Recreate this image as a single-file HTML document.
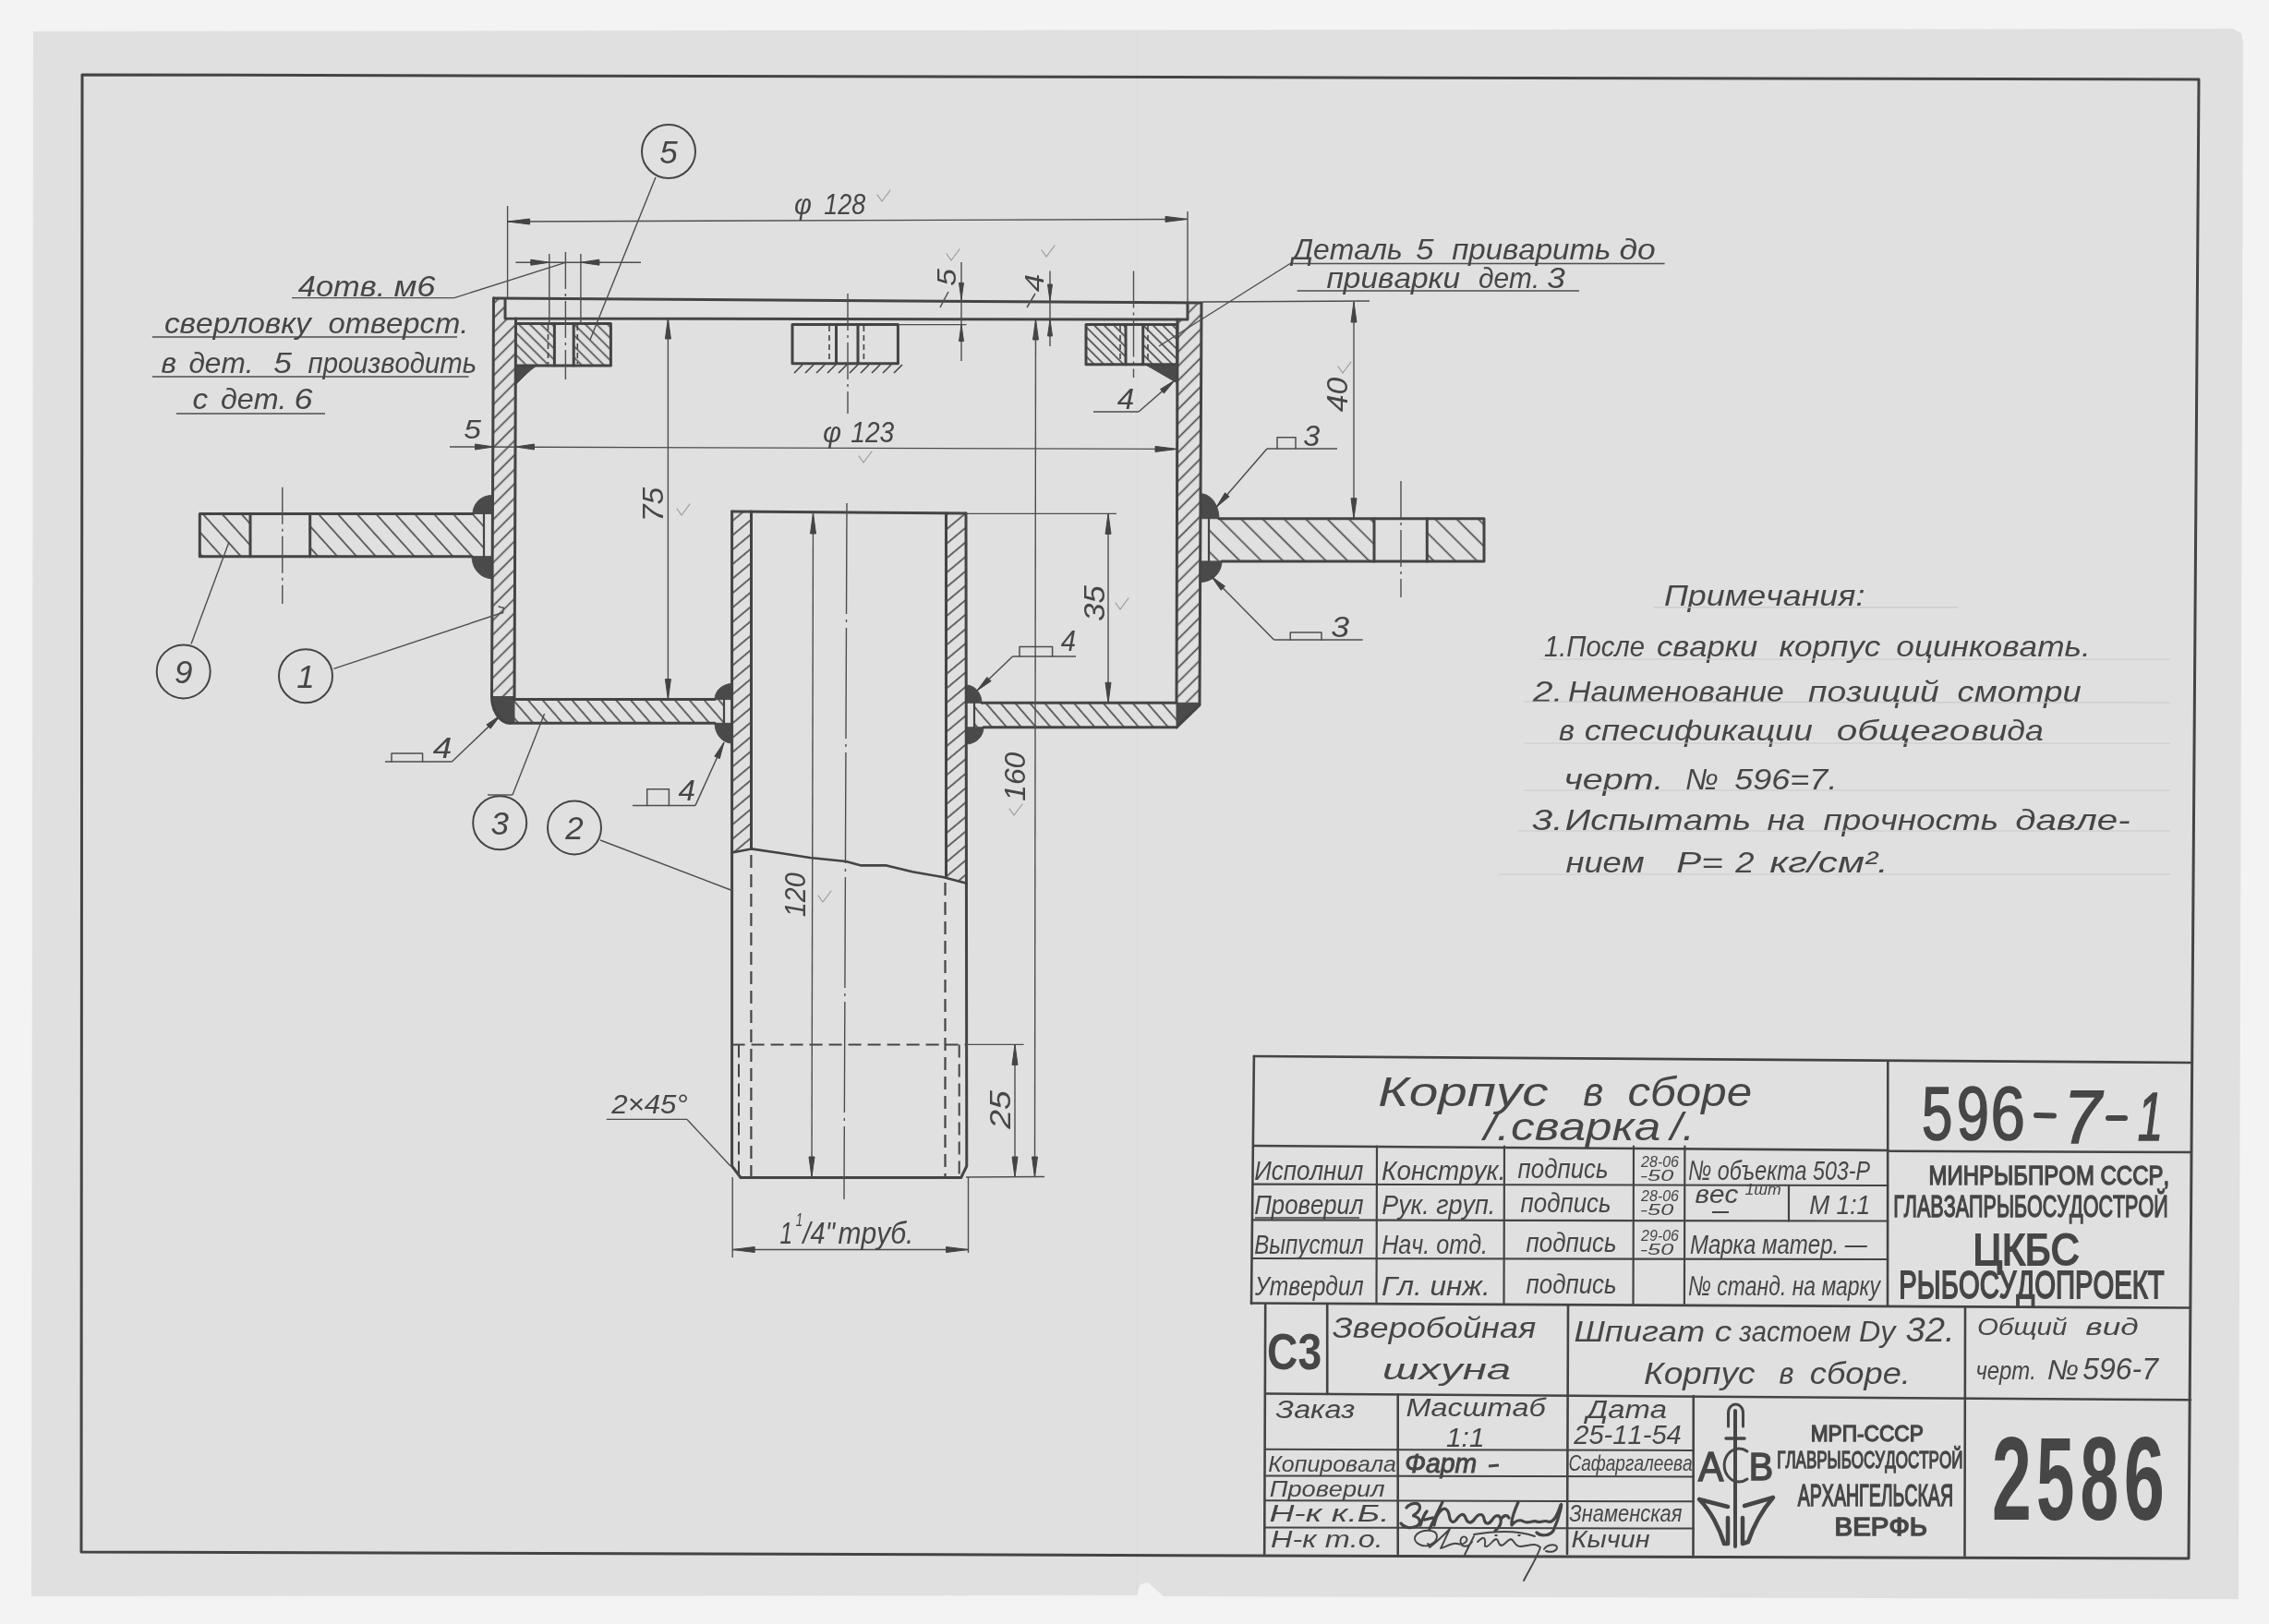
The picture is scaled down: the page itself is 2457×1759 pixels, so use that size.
<!DOCTYPE html>
<html><head><meta charset="utf-8"><title>Корпус в сборе 596-7-1</title>
<style>html,body{margin:0;padding:0;background:#f3f3f3;}svg{display:block;will-change:transform;}text{font-family:"Liberation Sans",sans-serif;}</style>
</head><body>
<svg width="2457" height="1759" viewBox="0 0 2457 1759"><defs><pattern id="h1" patternUnits="userSpaceOnUse" width="11" height="11" patternTransform="rotate(-45)"><line x1="0" y1="5.5" x2="11" y2="5.5" stroke="#464646" stroke-width="1.6"/></pattern><pattern id="h2" patternUnits="userSpaceOnUse" width="11" height="11" patternTransform="rotate(-45)"><line x1="0" y1="5.5" x2="11" y2="5.5" stroke="#464646" stroke-width="1.6"/></pattern><pattern id="h3" patternUnits="userSpaceOnUse" width="8.5" height="8.5" patternTransform="rotate(45)"><line x1="0" y1="4.2" x2="8.5" y2="4.2" stroke="#464646" stroke-width="1.6"/></pattern><pattern id="h4" patternUnits="userSpaceOnUse" width="8.5" height="8.5" patternTransform="rotate(45)"><line x1="0" y1="4.2" x2="8.5" y2="4.2" stroke="#464646" stroke-width="1.6"/></pattern><pattern id="h5" patternUnits="userSpaceOnUse" width="7.5" height="7.5" patternTransform="rotate(45)"><line x1="0" y1="3.8" x2="7.5" y2="3.8" stroke="#464646" stroke-width="1.6"/></pattern><pattern id="h6" patternUnits="userSpaceOnUse" width="7.5" height="7.5" patternTransform="rotate(45)"><line x1="0" y1="3.8" x2="7.5" y2="3.8" stroke="#464646" stroke-width="1.6"/></pattern><pattern id="h7" patternUnits="userSpaceOnUse" width="15.5" height="15.5" patternTransform="rotate(48)"><line x1="0" y1="7.8" x2="15.5" y2="7.8" stroke="#464646" stroke-width="1.6"/></pattern><pattern id="h8" patternUnits="userSpaceOnUse" width="15.5" height="15.5" patternTransform="rotate(48)"><line x1="0" y1="7.8" x2="15.5" y2="7.8" stroke="#464646" stroke-width="1.6"/></pattern><pattern id="h9" patternUnits="userSpaceOnUse" width="16.5" height="16.5" patternTransform="rotate(45)"><line x1="0" y1="8.2" x2="16.5" y2="8.2" stroke="#464646" stroke-width="1.6"/></pattern><pattern id="h10" patternUnits="userSpaceOnUse" width="16.5" height="16.5" patternTransform="rotate(45)"><line x1="0" y1="8.2" x2="16.5" y2="8.2" stroke="#464646" stroke-width="1.6"/></pattern><pattern id="h11" patternUnits="userSpaceOnUse" width="12" height="12" patternTransform="rotate(49)"><line x1="0" y1="6" x2="12" y2="6" stroke="#464646" stroke-width="1.6"/></pattern><pattern id="h12" patternUnits="userSpaceOnUse" width="12" height="12" patternTransform="rotate(49)"><line x1="0" y1="6" x2="12" y2="6" stroke="#464646" stroke-width="1.6"/></pattern><pattern id="h13" patternUnits="userSpaceOnUse" width="12" height="12" patternTransform="rotate(-40)"><line x1="0" y1="6" x2="12" y2="6" stroke="#464646" stroke-width="1.6"/></pattern><pattern id="h14" patternUnits="userSpaceOnUse" width="12" height="12" patternTransform="rotate(-40)"><line x1="0" y1="6" x2="12" y2="6" stroke="#464646" stroke-width="1.6"/></pattern></defs><rect x="0" y="0" width="2457" height="1759" fill="#f3f3f3"/>
<path d="M36,34 L2418,31 L2427,36 L2429,45 L2424,1732 L1260,1729 L1252,1722 L1243,1714 L1235,1716 L1230,1728 L34,1729 Z" fill="#e0e0e0" stroke="none"/>
<line x1="1231" y1="34" x2="1231" y2="1728" stroke="#dcdcdc" stroke-width="1.5" />
<path d="M89,81 L2381,86 L2370,1688 L88,1681 Z" fill="none" stroke="#444444" stroke-width="3" stroke-linejoin="round" stroke-linecap="round" />
<path d="M534.5,324 L547,324 L547,345 L558.5,345 L557,757 L532.5,757 Z" fill="url(#h1)" stroke="none"/>
<path d="M1286,328 L1301,328 L1299,761 L1274,761 L1275,346 L1286,346 Z" fill="url(#h2)" stroke="none"/>
<path d="M558.5,350.5 L600.4,350.5 L600.4,396 L558.5,396 Z" fill="url(#h3)" stroke="none"/>
<path d="M621.2,350.5 L661.4,350.5 L661.4,396 L621.2,396 Z" fill="url(#h4)" stroke="none"/>
<path d="M1176,351.5 L1219,351.5 L1219,394.7 L1176,394.7 Z" fill="url(#h5)" stroke="none"/>
<path d="M1237.7,351.5 L1274.7,351.5 L1274.7,394.7 L1237.7,394.7 Z" fill="url(#h6)" stroke="none"/>
<path d="M216.3,556.5 L271,556.5 L271,602.7 L216.3,602.7 Z" fill="url(#h7)" stroke="none"/>
<path d="M335.7,556.5 L524,556.5 L524,602.7 L335.7,602.7 Z" fill="url(#h8)" stroke="none"/>
<path d="M1309,561.7 L1488,561.7 L1488,607.9 L1309,607.9 Z" fill="url(#h9)" stroke="none"/>
<path d="M1545.3,561.7 L1607,561.7 L1607,607.9 L1545.3,607.9 Z" fill="url(#h10)" stroke="none"/>
<path d="M557,757.6 L784,757.6 L784,783.3 L557,783.3 Z" fill="url(#h11)" stroke="none"/>
<path d="M1055,761.3 L1274,761.3 L1274,787.8 L1055,787.8 Z" fill="url(#h12)" stroke="none"/>
<path d="M792.6,554 L813.5,554 L813.5,919.4 L792.6,923.6 Z" fill="url(#h13)" stroke="none"/>
<path d="M1024.5,556 L1046,556 L1046,956.8 L1024.5,950 Z" fill="url(#h14)" stroke="none"/>
<path d="M532.5,556.5 L512,556.5 A20.5,20 0 0 1 532.5,536.5 Z" fill="#4a4a4a" stroke="#4a4a4a" stroke-width="1"/>
<path d="M532.5,602.7 L511,602.7 A21.5,24 0 0 0 532.5,626.7 Z" fill="#4a4a4a" stroke="#4a4a4a" stroke-width="1"/>
<path d="M1300,561.7 L1320,561.7 A20,27 0 0 0 1300,534.7 Z" fill="#4a4a4a" stroke="#4a4a4a" stroke-width="1"/>
<path d="M1300,607.9 L1323,607.9 A23,22.6 0 0 1 1300,630.5 Z" fill="#4a4a4a" stroke="#4a4a4a" stroke-width="1"/>
<path d="M792.6,757.6 L774,757.6 A18.6,17 0 0 1 792.6,740.6 Z" fill="#4a4a4a" stroke="#4a4a4a" stroke-width="1"/>
<path d="M792.6,783.3 L774,783.3 A18.6,21.7 0 0 0 792.6,805 Z" fill="#4a4a4a" stroke="#4a4a4a" stroke-width="1"/>
<path d="M1046,761.3 L1063,761.3 A17,19.3 0 0 0 1046,742 Z" fill="#4a4a4a" stroke="#4a4a4a" stroke-width="1"/>
<path d="M1046,787.8 L1065,787.8 A19,18.2 0 0 1 1046,806 Z" fill="#4a4a4a" stroke="#4a4a4a" stroke-width="1"/>
<path d="M558.5,396 L581,396 Q574,401 569,406 L559,416 Z" fill="#4a4a4a" stroke="#4a4a4a" stroke-width="1"/>
<path d="M1275,394.7 L1240,394.7 L1275,415 Z" fill="#4a4a4a" stroke="#4a4a4a" stroke-width="1"/>
<path d="M532.5,754.5 L557,754.5 L557,783.3 L552,783.3 A20,28.8 0 0 1 532.5,754.5 Z" fill="#4a4a4a" stroke="#4a4a4a" stroke-width="1"/>
<path d="M1299,761.3 L1274,761.3 L1274,787.8 L1299,763.7 Z" fill="#4a4a4a" stroke="#4a4a4a" stroke-width="1"/>
<path d="M534.5,323 L1301,328" fill="none" stroke="#444444" stroke-width="3.0" stroke-linejoin="round" stroke-linecap="round" />
<path d="M547,323.5 L547,345 L1286,346 L1286,328" fill="none" stroke="#444444" stroke-width="3.0" stroke-linejoin="round" stroke-linecap="round" />
<path d="M534.5,323 L532.5,754.5 A20,28.8 0 0 0 552,783.3" fill="none" stroke="#444444" stroke-width="3.0" stroke-linejoin="round" stroke-linecap="round" />
<path d="M558.5,345 L557,757.6" fill="none" stroke="#444444" stroke-width="3.0" stroke-linejoin="round" stroke-linecap="round" />
<path d="M1301,328 L1299,763.7 L1274,787.8" fill="none" stroke="#444444" stroke-width="3.0" stroke-linejoin="round" stroke-linecap="round" />
<path d="M1275,346 L1274,761.3" fill="none" stroke="#444444" stroke-width="3.0" stroke-linejoin="round" stroke-linecap="round" />
<path d="M558.5,350.5 L661.4,350.5 L661.4,396 L558.5,396" fill="none" stroke="#444444" stroke-width="3.0" stroke-linejoin="round" stroke-linecap="round" />
<path d="M600.4,350.5 L600.4,396" fill="none" stroke="#444444" stroke-width="3.0" stroke-linejoin="round" stroke-linecap="round" />
<path d="M621.2,350.5 L621.2,396" fill="none" stroke="#444444" stroke-width="3.0" stroke-linejoin="round" stroke-linecap="round" />
<path d="M858,351.5 L972.4,351.5 L972.4,393.8 L858,393.8 Z" fill="none" stroke="#444444" stroke-width="3.0" stroke-linejoin="round" stroke-linecap="round" />
<path d="M905.5,351.5 L905.5,393.8" fill="none" stroke="#444444" stroke-width="3.0" stroke-linejoin="round" stroke-linecap="round" />
<path d="M929,351.5 L929,393.8" fill="none" stroke="#444444" stroke-width="3.0" stroke-linejoin="round" stroke-linecap="round" />
<path d="M1176,351.5 L1274.7,351.5 L1274.7,394.7 L1176,394.7 Z" fill="none" stroke="#444444" stroke-width="3.0" stroke-linejoin="round" stroke-linecap="round" />
<path d="M1219,351.5 L1219,394.7" fill="none" stroke="#444444" stroke-width="3.0" stroke-linejoin="round" stroke-linecap="round" />
<path d="M1237.7,351.5 L1237.7,394.7" fill="none" stroke="#444444" stroke-width="3.0" stroke-linejoin="round" stroke-linecap="round" />
<path d="M512,556.5 L216.3,556.5 L216.3,602.7 L511,602.7" fill="none" stroke="#444444" stroke-width="3.0" stroke-linejoin="round" stroke-linecap="round" />
<path d="M271,556.5 L271,602.7" fill="none" stroke="#444444" stroke-width="3.0" stroke-linejoin="round" stroke-linecap="round" />
<path d="M335.7,556.5 L335.7,602.7" fill="none" stroke="#444444" stroke-width="3.0" stroke-linejoin="round" stroke-linecap="round" />
<path d="M524,556.5 L524,602.7" fill="none" stroke="#444444" stroke-width="2.2" stroke-linejoin="round" stroke-linecap="round" />
<path d="M1320,561.7 L1607,561.7 L1607,607.9 L1323,607.9" fill="none" stroke="#444444" stroke-width="3.0" stroke-linejoin="round" stroke-linecap="round" />
<path d="M1488,561.7 L1488,607.9" fill="none" stroke="#444444" stroke-width="3.0" stroke-linejoin="round" stroke-linecap="round" />
<path d="M1545.3,561.7 L1545.3,607.9" fill="none" stroke="#444444" stroke-width="3.0" stroke-linejoin="round" stroke-linecap="round" />
<path d="M1309,561.7 L1309,607.9" fill="none" stroke="#444444" stroke-width="2.2" stroke-linejoin="round" stroke-linecap="round" />
<path d="M557,757.6 L774,757.6" fill="none" stroke="#444444" stroke-width="3.0" stroke-linejoin="round" stroke-linecap="round" />
<path d="M552,783.3 L774,783.3" fill="none" stroke="#444444" stroke-width="3.0" stroke-linejoin="round" stroke-linecap="round" />
<path d="M784,757.6 L784,783.3" fill="none" stroke="#444444" stroke-width="2.2" stroke-linejoin="round" stroke-linecap="round" />
<path d="M1063,761.3 L1274,761.3" fill="none" stroke="#444444" stroke-width="3.0" stroke-linejoin="round" stroke-linecap="round" />
<path d="M1065,787.8 L1274,787.8" fill="none" stroke="#444444" stroke-width="3.0" stroke-linejoin="round" stroke-linecap="round" />
<path d="M1055,761.3 L1055,787.8" fill="none" stroke="#444444" stroke-width="2.2" stroke-linejoin="round" stroke-linecap="round" />
<path d="M792.6,554 L1046,556" fill="none" stroke="#444444" stroke-width="3.0" stroke-linejoin="round" stroke-linecap="round" />
<path d="M792.6,554 L792.6,1263 L802,1275.5 L1040.7,1275.5 L1046.8,1263 L1046,556" fill="none" stroke="#444444" stroke-width="3.0" stroke-linejoin="round" stroke-linecap="round" />
<path d="M813.5,554 L813.5,919.4" fill="none" stroke="#444444" stroke-width="3.0" stroke-linejoin="round" stroke-linecap="round" />
<path d="M1024.5,556 L1024.5,950" fill="none" stroke="#444444" stroke-width="3.0" stroke-linejoin="round" stroke-linecap="round" />
<path d="M792.6,923.6 L813.4,919.4 L845,924 L877,929 L916,933 L932.6,937.4 L960,937.4 L988,944.3 L1021,950 L1046.8,956.8" fill="none" stroke="#444444" stroke-width="2.6" stroke-linejoin="round" stroke-linecap="round" />
<line x1="813.4" y1="926" x2="813.4" y2="1275" stroke="#444444" stroke-width="2.2" stroke-dasharray="14 7"/>
<line x1="1023.5" y1="956" x2="1023.5" y2="1275" stroke="#444444" stroke-width="2.2" stroke-dasharray="14 7"/>
<line x1="792.6" y1="1131.4" x2="1046" y2="1131.4" stroke="#444444" stroke-width="2.0" stroke-dasharray="14 7"/>
<line x1="800" y1="1131.4" x2="800" y2="1272" stroke="#444444" stroke-width="2.0" stroke-dasharray="14 7"/>
<line x1="1038.7" y1="1131.4" x2="1038.7" y2="1272" stroke="#444444" stroke-width="2.0" stroke-dasharray="14 7"/>
<line x1="593.5" y1="352" x2="593.5" y2="394" stroke="#444444" stroke-width="1.6" stroke-dasharray="6 4"/>
<line x1="625.3" y1="352" x2="625.3" y2="394" stroke="#444444" stroke-width="1.6" stroke-dasharray="6 4"/>
<line x1="898" y1="353" x2="898" y2="392" stroke="#444444" stroke-width="1.6" stroke-dasharray="6 4"/>
<line x1="935.4" y1="353" x2="935.4" y2="392" stroke="#444444" stroke-width="1.6" stroke-dasharray="6 4"/>
<line x1="1213" y1="353" x2="1213" y2="393" stroke="#444444" stroke-width="1.6" stroke-dasharray="6 4"/>
<line x1="1243" y1="353" x2="1243" y2="393" stroke="#444444" stroke-width="1.6" stroke-dasharray="6 4"/>
<line x1="860" y1="404" x2="869" y2="395" stroke="#444444" stroke-width="1.6" />
<line x1="872" y1="404" x2="881" y2="395" stroke="#444444" stroke-width="1.6" />
<line x1="884" y1="404" x2="893" y2="395" stroke="#444444" stroke-width="1.6" />
<line x1="896" y1="404" x2="905" y2="395" stroke="#444444" stroke-width="1.6" />
<line x1="908" y1="404" x2="917" y2="395" stroke="#444444" stroke-width="1.6" />
<line x1="920" y1="404" x2="929" y2="395" stroke="#444444" stroke-width="1.6" />
<line x1="932" y1="404" x2="941" y2="395" stroke="#444444" stroke-width="1.6" />
<line x1="944" y1="404" x2="953" y2="395" stroke="#444444" stroke-width="1.6" />
<line x1="956" y1="404" x2="965" y2="395" stroke="#444444" stroke-width="1.6" />
<line x1="968" y1="404" x2="977" y2="395" stroke="#444444" stroke-width="1.6" />
<line x1="612.4" y1="273" x2="612.4" y2="411" stroke="#4e4e4e" stroke-width="1.4" stroke-dasharray="40 5 3 5"/>
<line x1="918" y1="318" x2="918" y2="448" stroke="#4e4e4e" stroke-width="1.4" stroke-dasharray="40 5 3 5"/>
<line x1="1227.5" y1="293.5" x2="1227.5" y2="409" stroke="#4e4e4e" stroke-width="1.4" stroke-dasharray="40 5 3 5"/>
<line x1="305.8" y1="527.8" x2="305.8" y2="654" stroke="#4e4e4e" stroke-width="1.4" stroke-dasharray="40 5 3 5"/>
<line x1="1517" y1="521" x2="1517" y2="647" stroke="#4e4e4e" stroke-width="1.4" stroke-dasharray="40 5 3 5"/>
<line x1="917" y1="545" x2="914" y2="1299" stroke="#4e4e4e" stroke-width="1.4" stroke-dasharray="120 6 3 6"/>
<line x1="549.6" y1="223" x2="549.6" y2="322" stroke="#4e4e4e" stroke-width="1.4" />
<line x1="1286" y1="229" x2="1286" y2="327" stroke="#4e4e4e" stroke-width="1.4" />
<line x1="549.6" y1="240" x2="1286" y2="237.4" stroke="#4e4e4e" stroke-width="1.4" />
<path d="M549.6,240 L573.6,237 L573.6,243 Z" fill="#444444" stroke="#444444" stroke-width="1" stroke-linejoin="round"/>
<path d="M1286,237.4 L1262,240.4 L1262,234.4 Z" fill="#444444" stroke="#444444" stroke-width="1" stroke-linejoin="round"/>
<line x1="487" y1="484" x2="1275" y2="486.4" stroke="#4e4e4e" stroke-width="1.4" />
<path d="M534.5,484 L514.5,487 L514.5,481 Z" fill="#444444" stroke="#444444" stroke-width="1" stroke-linejoin="round"/>
<path d="M558.5,484 L578.5,481 L578.5,487 Z" fill="#444444" stroke="#444444" stroke-width="1" stroke-linejoin="round"/>
<path d="M1275,486.4 L1251,489.4 L1251,483.4 Z" fill="#444444" stroke="#444444" stroke-width="1" stroke-linejoin="round"/>
<line x1="594.8" y1="275" x2="594.8" y2="350" stroke="#4e4e4e" stroke-width="1.4" />
<line x1="628.9" y1="275" x2="628.9" y2="350" stroke="#4e4e4e" stroke-width="1.4" />
<line x1="558.4" y1="284.2" x2="694" y2="284.2" stroke="#4e4e4e" stroke-width="1.4" />
<path d="M594.8,284.2 L574.8,287.2 L574.8,281.2 Z" fill="#444444" stroke="#444444" stroke-width="1" stroke-linejoin="round"/>
<path d="M628.9,284.2 L648.9,281.2 L648.9,287.2 Z" fill="#444444" stroke="#444444" stroke-width="1" stroke-linejoin="round"/>
<line x1="972.4" y1="351.6" x2="1046.5" y2="351.6" stroke="#4e4e4e" stroke-width="1.4" />
<line x1="1041" y1="284" x2="1041" y2="391" stroke="#4e4e4e" stroke-width="1.4" />
<path d="M1041,324.4 L1038.5,306.4 L1043.5,306.4 Z" fill="#444444" stroke="#444444" stroke-width="1" stroke-linejoin="round"/>
<path d="M1041,351.6 L1043.5,369.6 L1038.5,369.6 Z" fill="#444444" stroke="#444444" stroke-width="1" stroke-linejoin="round"/>
<line x1="1137" y1="293.5" x2="1137" y2="375" stroke="#4e4e4e" stroke-width="1.4" />
<path d="M1137,326 L1134.5,308 L1139.5,308 Z" fill="#444444" stroke="#444444" stroke-width="1" stroke-linejoin="round"/>
<path d="M1137,346 L1139.5,364 L1134.5,364 Z" fill="#444444" stroke="#444444" stroke-width="1" stroke-linejoin="round"/>
<line x1="723.4" y1="345" x2="723.4" y2="757.6" stroke="#4e4e4e" stroke-width="1.4" />
<path d="M723.4,345 L726.4,367 L720.4,367 Z" fill="#444444" stroke="#444444" stroke-width="1" stroke-linejoin="round"/>
<path d="M723.4,757.6 L720.4,735.6 L726.4,735.6 Z" fill="#444444" stroke="#444444" stroke-width="1" stroke-linejoin="round"/>
<line x1="1121.5" y1="346" x2="1120.5" y2="1275" stroke="#4e4e4e" stroke-width="1.4" />
<path d="M1121.5,346 L1124.5,368 L1118.5,368 Z" fill="#444444" stroke="#444444" stroke-width="1" stroke-linejoin="round"/>
<path d="M1120.5,1275 L1117.5,1253 L1123.5,1253 Z" fill="#444444" stroke="#444444" stroke-width="1" stroke-linejoin="round"/>
<line x1="1302" y1="327" x2="1483" y2="326" stroke="#4e4e4e" stroke-width="1.4" />
<line x1="1466" y1="327" x2="1466" y2="561.7" stroke="#4e4e4e" stroke-width="1.4" />
<path d="M1466,327 L1469,349 L1463,349 Z" fill="#444444" stroke="#444444" stroke-width="1" stroke-linejoin="round"/>
<path d="M1466,561.7 L1463,539.7 L1469,539.7 Z" fill="#444444" stroke="#444444" stroke-width="1" stroke-linejoin="round"/>
<line x1="1046" y1="556.4" x2="1209" y2="556.4" stroke="#4e4e4e" stroke-width="1.4" />
<line x1="1200" y1="556.4" x2="1200" y2="761.3" stroke="#4e4e4e" stroke-width="1.4" />
<path d="M1200,556.4 L1203,578.4 L1197,578.4 Z" fill="#444444" stroke="#444444" stroke-width="1" stroke-linejoin="round"/>
<path d="M1200,761.3 L1197,739.3 L1203,739.3 Z" fill="#444444" stroke="#444444" stroke-width="1" stroke-linejoin="round"/>
<line x1="880.5" y1="556" x2="879" y2="1275" stroke="#4e4e4e" stroke-width="1.4" />
<path d="M880.5,556 L883.5,578 L877.5,578 Z" fill="#444444" stroke="#444444" stroke-width="1" stroke-linejoin="round"/>
<path d="M879,1275 L876,1253 L882,1253 Z" fill="#444444" stroke="#444444" stroke-width="1" stroke-linejoin="round"/>
<line x1="1046" y1="1131.4" x2="1108.6" y2="1131.4" stroke="#4e4e4e" stroke-width="1.4" />
<line x1="1099" y1="1131.4" x2="1099" y2="1275" stroke="#4e4e4e" stroke-width="1.4" />
<path d="M1099,1131.4 L1102,1153.4 L1096,1153.4 Z" fill="#444444" stroke="#444444" stroke-width="1" stroke-linejoin="round"/>
<path d="M1099,1275 L1096,1253 L1102,1253 Z" fill="#444444" stroke="#444444" stroke-width="1" stroke-linejoin="round"/>
<line x1="1046" y1="1275" x2="1131" y2="1274.5" stroke="#4e4e4e" stroke-width="1.4" />
<line x1="793.2" y1="1275" x2="793.2" y2="1362" stroke="#4e4e4e" stroke-width="1.4" />
<line x1="1048.5" y1="1275" x2="1048.5" y2="1357" stroke="#4e4e4e" stroke-width="1.4" />
<line x1="793.2" y1="1353.5" x2="1048.5" y2="1353.5" stroke="#4e4e4e" stroke-width="1.4" />
<path d="M793.2,1353.5 L817.2,1350.5 L817.2,1356.5 Z" fill="#444444" stroke="#444444" stroke-width="1" stroke-linejoin="round"/>
<path d="M1048.5,1353.5 L1024.5,1356.5 L1024.5,1350.5 Z" fill="#444444" stroke="#444444" stroke-width="1" stroke-linejoin="round"/>
<circle cx="724" cy="164" r="29" fill="none" stroke="#444444" stroke-width="2.0"/>
<circle cx="198.7" cy="727.4" r="29" fill="none" stroke="#444444" stroke-width="2.0"/>
<circle cx="331" cy="732.3" r="29" fill="none" stroke="#444444" stroke-width="2.0"/>
<circle cx="541.2" cy="891.2" r="29" fill="none" stroke="#444444" stroke-width="2.0"/>
<circle cx="622" cy="896.4" r="29" fill="none" stroke="#444444" stroke-width="2.0"/>
<line x1="710" y1="192" x2="639" y2="368" stroke="#4e4e4e" stroke-width="1.4" />
<line x1="207" y1="697.5" x2="248" y2="587" stroke="#4e4e4e" stroke-width="1.4" />
<line x1="361.3" y1="724.3" x2="544.3" y2="663.5" stroke="#4e4e4e" stroke-width="1.4" />
<path d="M540,657 L545.5,658.5 L544.5,664" fill="none" stroke="#4e4e4e" stroke-width="1.3" stroke-linejoin="round" stroke-linecap="round" />
<line x1="555" y1="861" x2="589.6" y2="773" stroke="#4e4e4e" stroke-width="1.4" />
<line x1="528" y1="861" x2="555" y2="861" stroke="#4e4e4e" stroke-width="1.4" />
<line x1="650" y1="910" x2="794" y2="965" stroke="#4e4e4e" stroke-width="1.4" />
<line x1="316" y1="322.6" x2="492" y2="322.6" stroke="#4e4e4e" stroke-width="1.4" />
<line x1="492" y1="322.6" x2="613" y2="284.2" stroke="#4e4e4e" stroke-width="1.4" />
<line x1="165" y1="365" x2="495" y2="365" stroke="#4e4e4e" stroke-width="1.4" />
<line x1="165" y1="408" x2="507.5" y2="408" stroke="#4e4e4e" stroke-width="1.4" />
<line x1="191" y1="448" x2="352" y2="448" stroke="#4e4e4e" stroke-width="1.4" />
<line x1="1397" y1="285.5" x2="1802.6" y2="285.5" stroke="#4e4e4e" stroke-width="1.4" />
<line x1="1397" y1="285.5" x2="1255" y2="375" stroke="#4e4e4e" stroke-width="1.4" />
<line x1="1404.6" y1="315" x2="1710" y2="315" stroke="#4e4e4e" stroke-width="1.4" />
<line x1="656.8" y1="1212.4" x2="744" y2="1212.4" stroke="#4e4e4e" stroke-width="1.4" />
<line x1="744" y1="1212.4" x2="791" y2="1263" stroke="#4e4e4e" stroke-width="1.4" />
<line x1="1184" y1="446" x2="1233" y2="446" stroke="#4e4e4e" stroke-width="1.5" />
<text x="1209.8" y="443" font-family="Liberation Sans" font-size="32" font-style="italic" font-weight="normal" fill="#464646" textLength="18.5" lengthAdjust="spacingAndGlyphs" style="font-kerning:none" >4</text>
<line x1="1233" y1="446" x2="1272" y2="412" stroke="#4e4e4e" stroke-width="1.5" />
<path d="M1272,412 L1260.4,426.1 L1256.5,421.6 Z" fill="#444444" stroke="#444444" stroke-width="1" stroke-linejoin="round"/>
<line x1="1372" y1="486" x2="1448" y2="486" stroke="#4e4e4e" stroke-width="1.5" />
<path d="M1383,486 L1383,473.7 L1403,473.7 L1403,486" fill="none" stroke="#4e4e4e" stroke-width="1.5" stroke-linejoin="round" stroke-linecap="round" />
<text x="1411.2" y="483" font-family="Liberation Sans" font-size="32" font-style="italic" font-weight="normal" fill="#464646" textLength="18" lengthAdjust="spacingAndGlyphs" style="font-kerning:none" >3</text>
<line x1="1372" y1="486" x2="1317" y2="549.4" stroke="#4e4e4e" stroke-width="1.5" />
<path d="M1317,549.4 L1326.5,533.8 L1331.1,537.8 Z" fill="#444444" stroke="#444444" stroke-width="1" stroke-linejoin="round"/>
<line x1="1379.6" y1="693" x2="1475.7" y2="693" stroke="#4e4e4e" stroke-width="1.5" />
<path d="M1397.2,693 L1397.2,685 L1431,685 L1431,693" fill="none" stroke="#4e4e4e" stroke-width="1.5" stroke-linejoin="round" stroke-linecap="round" />
<text x="1441.2" y="690.4" font-family="Liberation Sans" font-size="32" font-style="italic" font-weight="normal" fill="#464646" textLength="19.9" lengthAdjust="spacingAndGlyphs" style="font-kerning:none" >3</text>
<line x1="1379.6" y1="693" x2="1311.7" y2="624.3" stroke="#4e4e4e" stroke-width="1.5" />
<path d="M1311.7,624.3 L1326.5,635 L1322.2,639.2 Z" fill="#444444" stroke="#444444" stroke-width="1" stroke-linejoin="round"/>
<line x1="417" y1="825" x2="489.4" y2="825" stroke="#4e4e4e" stroke-width="1.5" />
<path d="M424,825 L424,816 L457.6,816 L457.6,825" fill="none" stroke="#4e4e4e" stroke-width="1.5" stroke-linejoin="round" stroke-linecap="round" />
<text x="468.8" y="821" font-family="Liberation Sans" font-size="32" font-style="italic" font-weight="normal" fill="#464646" textLength="20.6" lengthAdjust="spacingAndGlyphs" style="font-kerning:none" >4</text>
<line x1="489.4" y1="825" x2="542" y2="774.6" stroke="#4e4e4e" stroke-width="1.5" />
<path d="M542,774.6 L531.1,789.2 L526.9,784.9 Z" fill="#444444" stroke="#444444" stroke-width="1" stroke-linejoin="round"/>
<line x1="685" y1="872.4" x2="753" y2="872.4" stroke="#4e4e4e" stroke-width="1.5" />
<path d="M700.7,872.4 L700.7,854.8 L724.4,854.8 L724.4,872.4" fill="none" stroke="#4e4e4e" stroke-width="1.5" stroke-linejoin="round" stroke-linecap="round" />
<text x="734.4" y="867" font-family="Liberation Sans" font-size="32" font-style="italic" font-weight="normal" fill="#464646" textLength="18.5" lengthAdjust="spacingAndGlyphs" style="font-kerning:none" >4</text>
<line x1="753" y1="872.4" x2="784" y2="804" stroke="#4e4e4e" stroke-width="1.5" />
<path d="M784,804 L779.3,821.6 L773.8,819.2 Z" fill="#444444" stroke="#444444" stroke-width="1" stroke-linejoin="round"/>
<line x1="1096.5" y1="711" x2="1165" y2="711" stroke="#4e4e4e" stroke-width="1.5" />
<path d="M1104,711 L1104,700.5 L1139.6,700.5 L1139.6,711" fill="none" stroke="#4e4e4e" stroke-width="1.5" stroke-linejoin="round" stroke-linecap="round" />
<text x="1148.8" y="705" font-family="Liberation Sans" font-size="32" font-style="italic" font-weight="normal" fill="#464646" textLength="16.3" lengthAdjust="spacingAndGlyphs" style="font-kerning:none" >4</text>
<line x1="1096.5" y1="711" x2="1058" y2="748" stroke="#4e4e4e" stroke-width="1.5" />
<path d="M1058,748 L1068.9,733.4 L1073.1,737.7 Z" fill="#444444" stroke="#444444" stroke-width="1" stroke-linejoin="round"/>
<text x="322.8" y="321" font-family="Liberation Sans" font-size="32" font-style="italic" font-weight="normal" fill="#464646" textLength="94.4" lengthAdjust="spacingAndGlyphs" style="font-kerning:none" >4отв.</text>
<text x="426.4" y="321" font-family="Liberation Sans" font-size="32" font-style="italic" font-weight="normal" fill="#464646" textLength="45.1" lengthAdjust="spacingAndGlyphs" style="font-kerning:none" >м6</text>
<text x="177.9" y="361.4" font-family="Liberation Sans" font-size="32" font-style="italic" font-weight="normal" fill="#464646" textLength="158.9" lengthAdjust="spacingAndGlyphs" style="font-kerning:none" >сверловку</text>
<text x="355.4" y="361.4" font-family="Liberation Sans" font-size="32" font-style="italic" font-weight="normal" fill="#464646" textLength="152" lengthAdjust="spacingAndGlyphs" style="font-kerning:none" >отверст.</text>
<text x="174.4" y="404.4" font-family="Liberation Sans" font-size="32" font-style="italic" font-weight="normal" fill="#464646" textLength="16.5" lengthAdjust="spacingAndGlyphs" style="font-kerning:none" >в</text>
<text x="204.4" y="404.4" font-family="Liberation Sans" font-size="32" font-style="italic" font-weight="normal" fill="#464646" textLength="70.1" lengthAdjust="spacingAndGlyphs" style="font-kerning:none" >дет.</text>
<text x="296.2" y="404.4" font-family="Liberation Sans" font-size="32" font-style="italic" font-weight="normal" fill="#464646" textLength="19.7" lengthAdjust="spacingAndGlyphs" style="font-kerning:none" >5</text>
<text x="333.5" y="404.4" font-family="Liberation Sans" font-size="32" font-style="italic" font-weight="normal" fill="#464646" textLength="182.7" lengthAdjust="spacingAndGlyphs" style="font-kerning:none" >производить</text>
<text x="208.5" y="442.6" font-family="Liberation Sans" font-size="32" font-style="italic" font-weight="normal" fill="#464646" textLength="16.7" lengthAdjust="spacingAndGlyphs" style="font-kerning:none" >с</text>
<text x="238.9" y="442.6" font-family="Liberation Sans" font-size="32" font-style="italic" font-weight="normal" fill="#464646" textLength="71.6" lengthAdjust="spacingAndGlyphs" style="font-kerning:none" >дет.</text>
<text x="318.5" y="442.6" font-family="Liberation Sans" font-size="32" font-style="italic" font-weight="normal" fill="#464646" textLength="20" lengthAdjust="spacingAndGlyphs" style="font-kerning:none" >6</text>
<text x="1399.7" y="281" font-family="Liberation Sans" font-size="32" font-style="italic" font-weight="normal" fill="#464646" textLength="119.1" lengthAdjust="spacingAndGlyphs" style="font-kerning:none" >Деталь</text>
<text x="1533.2" y="281" font-family="Liberation Sans" font-size="32" font-style="italic" font-weight="normal" fill="#464646" textLength="19.3" lengthAdjust="spacingAndGlyphs" style="font-kerning:none" >5</text>
<text x="1572.2" y="281" font-family="Liberation Sans" font-size="32" font-style="italic" font-weight="normal" fill="#464646" textLength="172.1" lengthAdjust="spacingAndGlyphs" style="font-kerning:none" >приварить</text>
<text x="1753.5" y="281" font-family="Liberation Sans" font-size="32" font-style="italic" font-weight="normal" fill="#464646" textLength="39.3" lengthAdjust="spacingAndGlyphs" style="font-kerning:none" >до</text>
<text x="1436.4" y="311.8" font-family="Liberation Sans" font-size="32" font-style="italic" font-weight="normal" fill="#464646" textLength="144.6" lengthAdjust="spacingAndGlyphs" style="font-kerning:none" >приварки</text>
<text x="1601" y="311.8" font-family="Liberation Sans" font-size="32" font-style="italic" font-weight="normal" fill="#464646" textLength="66.2" lengthAdjust="spacingAndGlyphs" style="font-kerning:none" >дет.</text>
<text x="1675.2" y="311.8" font-family="Liberation Sans" font-size="32" font-style="italic" font-weight="normal" fill="#464646" textLength="19.6" lengthAdjust="spacingAndGlyphs" style="font-kerning:none" >3</text>
<text x="860" y="232" font-family="Liberation Sans" font-size="31" font-style="italic" font-weight="normal" fill="#464646" textLength="18.9" lengthAdjust="spacingAndGlyphs" style="font-kerning:none" >φ</text>
<text x="892.3" y="232" font-family="Liberation Sans" font-size="31" font-style="italic" font-weight="normal" fill="#464646" textLength="44.9" lengthAdjust="spacingAndGlyphs" style="font-kerning:none" >128</text>
<text x="890.9" y="478.6" font-family="Liberation Sans" font-size="31" font-style="italic" font-weight="normal" fill="#464646" textLength="20.1" lengthAdjust="spacingAndGlyphs" style="font-kerning:none" >φ</text>
<text x="921.3" y="478.6" font-family="Liberation Sans" font-size="31" font-style="italic" font-weight="normal" fill="#464646" textLength="47" lengthAdjust="spacingAndGlyphs" style="font-kerning:none" >123</text>
<text x="502.2" y="474.8" font-family="Liberation Sans" font-size="29" font-style="italic" font-weight="normal" fill="#464646" textLength="18.7" lengthAdjust="spacingAndGlyphs" style="font-kerning:none" >5</text>
<g transform="translate(707.5,544.7) rotate(-90)"><text x="-20.5" y="10.9" font-family="Liberation Sans" font-size="32" font-style="italic" fill="#464646" textLength="37.4" lengthAdjust="spacingAndGlyphs" style="font-kerning:none">75</text></g>
<g transform="translate(1184.5,653) rotate(-90)"><text x="-19.8" y="11" font-family="Liberation Sans" font-size="32" font-style="italic" fill="#464646" textLength="38.7" lengthAdjust="spacingAndGlyphs" style="font-kerning:none">35</text></g>
<g transform="translate(1099,841) rotate(-90)"><text x="-26.8" y="11" font-family="Liberation Sans" font-size="32" font-style="italic" fill="#464646" textLength="53.1" lengthAdjust="spacingAndGlyphs" style="font-kerning:none">160</text></g>
<g transform="translate(860.5,969) rotate(-90)"><text x="-24.2" y="11" font-family="Liberation Sans" font-size="32" font-style="italic" fill="#464646" textLength="48" lengthAdjust="spacingAndGlyphs" style="font-kerning:none">120</text></g>
<g transform="translate(1083,1202) rotate(-90)"><text x="-20.8" y="11" font-family="Liberation Sans" font-size="32" font-style="italic" fill="#464646" textLength="41.7" lengthAdjust="spacingAndGlyphs" style="font-kerning:none">25</text></g>
<g transform="translate(1448,427.6) rotate(-90)"><text x="-18.7" y="11" font-family="Liberation Sans" font-size="32" font-style="italic" fill="#464646" textLength="37.5" lengthAdjust="spacingAndGlyphs" style="font-kerning:none">40</text></g>
<g transform="translate(1025,300) rotate(-90)"><text x="-9.8" y="10.2" font-family="Liberation Sans" font-size="30" font-style="italic" fill="#464646" textLength="18.7" lengthAdjust="spacingAndGlyphs" style="font-kerning:none">5</text></g>
<g transform="translate(1120,307) rotate(-90)"><text x="-9.2" y="10.3" font-family="Liberation Sans" font-size="30" font-style="italic" fill="#464646" textLength="19.5" lengthAdjust="spacingAndGlyphs" style="font-kerning:none">4</text></g>
<line x1="1018" y1="333" x2="1027" y2="316" stroke="#4e4e4e" stroke-width="1.5" />
<line x1="1112" y1="333" x2="1121" y2="318" stroke="#4e4e4e" stroke-width="1.5" />
<text x="662.2" y="1206" font-family="Liberation Sans" font-size="30" font-style="italic" font-weight="normal" fill="#464646" textLength="82.6" lengthAdjust="spacingAndGlyphs" style="font-kerning:none" >2×45°</text>
<text x="844.4" y="1347" font-family="Liberation Sans" font-size="34" font-style="italic" font-weight="normal" fill="#464646" textLength="13.7" lengthAdjust="spacingAndGlyphs" style="font-kerning:none" >1</text>
<text x="861.7" y="1328" font-family="Liberation Sans" font-size="20" font-style="italic" font-weight="normal" fill="#464646" textLength="7.5" lengthAdjust="spacingAndGlyphs" style="font-kerning:none" >1</text>
<text x="869.6" y="1347" font-family="Liberation Sans" font-size="34" font-style="italic" font-weight="normal" fill="#464646" textLength="34.3" lengthAdjust="spacingAndGlyphs" style="font-kerning:none" >/4"</text>
<text x="907.5" y="1347" font-family="Liberation Sans" font-size="34" font-style="italic" font-weight="normal" fill="#464646" textLength="81.9" lengthAdjust="spacingAndGlyphs" style="font-kerning:none" >труб.</text>
<text x="724" y="176.5" font-family="Liberation Sans" font-size="35" font-style="italic" fill="#464646" text-anchor="middle">5</text>
<text x="198.7" y="739.9" font-family="Liberation Sans" font-size="35" font-style="italic" fill="#464646" text-anchor="middle">9</text>
<text x="331" y="744.8" font-family="Liberation Sans" font-size="35" font-style="italic" fill="#464646" text-anchor="middle">1</text>
<text x="541.2" y="903.7" font-family="Liberation Sans" font-size="35" font-style="italic" fill="#464646" text-anchor="middle">3</text>
<text x="622" y="908.9" font-family="Liberation Sans" font-size="35" font-style="italic" fill="#464646" text-anchor="middle">2</text>
<text x="1801.9" y="656" font-family="Liberation Sans" font-size="32" font-style="italic" font-weight="normal" fill="#464646" textLength="217.5" lengthAdjust="spacingAndGlyphs" style="font-kerning:none" >Примечания:</text>
<text x="1671.9" y="710.7" font-family="Liberation Sans" font-size="32" font-style="italic" font-weight="normal" fill="#464646" textLength="109.1" lengthAdjust="spacingAndGlyphs" style="font-kerning:none" >1.После</text>
<text x="1793.9" y="710.7" font-family="Liberation Sans" font-size="32" font-style="italic" font-weight="normal" fill="#464646" textLength="109.3" lengthAdjust="spacingAndGlyphs" style="font-kerning:none" >сварки</text>
<text x="1926.4" y="710.7" font-family="Liberation Sans" font-size="32" font-style="italic" font-weight="normal" fill="#464646" textLength="110" lengthAdjust="spacingAndGlyphs" style="font-kerning:none" >корпус</text>
<text x="2053.3" y="710.7" font-family="Liberation Sans" font-size="32" font-style="italic" font-weight="normal" fill="#464646" textLength="210.5" lengthAdjust="spacingAndGlyphs" style="font-kerning:none" >оцинковать.</text>
<text x="1659.7" y="760.3" font-family="Liberation Sans" font-size="32" font-style="italic" font-weight="normal" fill="#464646" textLength="32.7" lengthAdjust="spacingAndGlyphs" style="font-kerning:none" >2.</text>
<text x="1698" y="760.3" font-family="Liberation Sans" font-size="32" font-style="italic" font-weight="normal" fill="#464646" textLength="233.9" lengthAdjust="spacingAndGlyphs" style="font-kerning:none" >Наименование</text>
<text x="1958.1" y="760.3" font-family="Liberation Sans" font-size="32" font-style="italic" font-weight="normal" fill="#464646" textLength="141.7" lengthAdjust="spacingAndGlyphs" style="font-kerning:none" >позиций</text>
<text x="2119.5" y="760.3" font-family="Liberation Sans" font-size="32" font-style="italic" font-weight="normal" fill="#464646" textLength="134.2" lengthAdjust="spacingAndGlyphs" style="font-kerning:none" >смотри</text>
<text x="1688" y="801.6" font-family="Liberation Sans" font-size="32" font-style="italic" font-weight="normal" fill="#464646" textLength="17" lengthAdjust="spacingAndGlyphs" style="font-kerning:none" >в</text>
<text x="1715.8" y="801.6" font-family="Liberation Sans" font-size="32" font-style="italic" font-weight="normal" fill="#464646" textLength="246.9" lengthAdjust="spacingAndGlyphs" style="font-kerning:none" >спесификации</text>
<text x="1988.7" y="801.6" font-family="Liberation Sans" font-size="32" font-style="italic" font-weight="normal" fill="#464646" textLength="144.6" lengthAdjust="spacingAndGlyphs" style="font-kerning:none" >общего</text>
<text x="2134.8" y="801.6" font-family="Liberation Sans" font-size="32" font-style="italic" font-weight="normal" fill="#464646" textLength="78" lengthAdjust="spacingAndGlyphs" style="font-kerning:none" >вида</text>
<text x="1693.4" y="854.5" font-family="Liberation Sans" font-size="32" font-style="italic" font-weight="normal" fill="#464646" textLength="108.2" lengthAdjust="spacingAndGlyphs" style="font-kerning:none" >черт.</text>
<text x="1825" y="854.5" font-family="Liberation Sans" font-size="32" font-style="italic" font-weight="normal" fill="#464646" textLength="35.7" lengthAdjust="spacingAndGlyphs" style="font-kerning:none" >№</text>
<text x="1878.2" y="854.5" font-family="Liberation Sans" font-size="32" font-style="italic" font-weight="normal" fill="#464646" textLength="111.2" lengthAdjust="spacingAndGlyphs" style="font-kerning:none" >596=7.</text>
<text x="1658.5" y="899" font-family="Liberation Sans" font-size="32" font-style="italic" font-weight="normal" fill="#464646" textLength="34.1" lengthAdjust="spacingAndGlyphs" style="font-kerning:none" >3.</text>
<text x="1694.8" y="899" font-family="Liberation Sans" font-size="32" font-style="italic" font-weight="normal" fill="#464646" textLength="201.4" lengthAdjust="spacingAndGlyphs" style="font-kerning:none" >Испытать</text>
<text x="1913.4" y="899" font-family="Liberation Sans" font-size="32" font-style="italic" font-weight="normal" fill="#464646" textLength="41.6" lengthAdjust="spacingAndGlyphs" style="font-kerning:none" >на</text>
<text x="1974.4" y="899" font-family="Liberation Sans" font-size="32" font-style="italic" font-weight="normal" fill="#464646" textLength="189.8" lengthAdjust="spacingAndGlyphs" style="font-kerning:none" >прочность</text>
<text x="2182.2" y="899" font-family="Liberation Sans" font-size="32" font-style="italic" font-weight="normal" fill="#464646" textLength="124.5" lengthAdjust="spacingAndGlyphs" style="font-kerning:none" >давле-</text>
<text x="1695.4" y="945.4" font-family="Liberation Sans" font-size="32" font-style="italic" font-weight="normal" fill="#464646" textLength="85.3" lengthAdjust="spacingAndGlyphs" style="font-kerning:none" >нием</text>
<text x="1815.3" y="945.4" font-family="Liberation Sans" font-size="32" font-style="italic" font-weight="normal" fill="#464646" textLength="50.6" lengthAdjust="spacingAndGlyphs" style="font-kerning:none" >P=</text>
<text x="1879.2" y="945.4" font-family="Liberation Sans" font-size="32" font-style="italic" font-weight="normal" fill="#464646" textLength="20.3" lengthAdjust="spacingAndGlyphs" style="font-kerning:none" >2</text>
<text x="1916.3" y="945.4" font-family="Liberation Sans" font-size="32" font-style="italic" font-weight="normal" fill="#464646" textLength="128.5" lengthAdjust="spacingAndGlyphs" style="font-kerning:none" >кг/см².</text>
<line x1="1790" y1="657.8" x2="2120" y2="657.8" stroke="#c9c9c9" stroke-width="1.2" />
<line x1="1667.8" y1="714" x2="2350" y2="714" stroke="#c9c9c9" stroke-width="1.2" />
<line x1="1650" y1="760" x2="2350" y2="761" stroke="#c9c9c9" stroke-width="1.2" />
<line x1="1650" y1="805" x2="2350" y2="805" stroke="#c9c9c9" stroke-width="1.2" />
<line x1="1650" y1="856" x2="2350" y2="856" stroke="#c9c9c9" stroke-width="1.2" />
<line x1="1643" y1="900" x2="2350" y2="900" stroke="#c9c9c9" stroke-width="1.2" />
<line x1="1623" y1="947" x2="2350" y2="947" stroke="#c9c9c9" stroke-width="1.2" />
<path d="M950,211 L955,218 L964,206" fill="none" stroke="#9a9a9a" stroke-width="1.2" stroke-linejoin="round" stroke-linecap="round" />
<path d="M1025,275 L1030,282 L1039,270" fill="none" stroke="#9a9a9a" stroke-width="1.2" stroke-linejoin="round" stroke-linecap="round" />
<path d="M1128,271 L1133,278 L1142,266" fill="none" stroke="#9a9a9a" stroke-width="1.2" stroke-linejoin="round" stroke-linecap="round" />
<path d="M930,494 L935,501 L944,489" fill="none" stroke="#9a9a9a" stroke-width="1.2" stroke-linejoin="round" stroke-linecap="round" />
<path d="M733,551 L738,558 L747,546" fill="none" stroke="#9a9a9a" stroke-width="1.2" stroke-linejoin="round" stroke-linecap="round" />
<path d="M1449,397 L1454,404 L1463,392" fill="none" stroke="#9a9a9a" stroke-width="1.2" stroke-linejoin="round" stroke-linecap="round" />
<path d="M1208,653 L1213,660 L1222,648" fill="none" stroke="#9a9a9a" stroke-width="1.2" stroke-linejoin="round" stroke-linecap="round" />
<path d="M1093,876 L1098,883 L1107,871" fill="none" stroke="#9a9a9a" stroke-width="1.2" stroke-linejoin="round" stroke-linecap="round" />
<path d="M886,970 L891,977 L900,965" fill="none" stroke="#9a9a9a" stroke-width="1.2" stroke-linejoin="round" stroke-linecap="round" />
<path d="M1357.9,1144 L2372.5,1151" fill="none" stroke="#444444" stroke-width="2.6" stroke-linejoin="round" stroke-linecap="round" />
<path d="M1357.9,1144 L1355,1412" fill="none" stroke="#444444" stroke-width="2.6" stroke-linejoin="round" stroke-linecap="round" />
<path d="M1355,1411.5 L2372,1416.5" fill="none" stroke="#444444" stroke-width="2.6" stroke-linejoin="round" stroke-linecap="round" />
<path d="M1357.9,1241 L2044.3,1246" fill="none" stroke="#444444" stroke-width="2.6" stroke-linejoin="round" stroke-linecap="round" />
<path d="M2044.3,1149.5 L2044,1414" fill="none" stroke="#444444" stroke-width="2.6" stroke-linejoin="round" stroke-linecap="round" />
<path d="M2044.3,1246.8 L2372.5,1248" fill="none" stroke="#444444" stroke-width="2.6" stroke-linejoin="round" stroke-linecap="round" />
<path d="M1356.5,1282.7 L2044.2,1284" fill="none" stroke="#444444" stroke-width="2.2" stroke-linejoin="round" stroke-linecap="round" />
<path d="M1356.5,1321.3 L2044.2,1322.5" fill="none" stroke="#444444" stroke-width="2.2" stroke-linejoin="round" stroke-linecap="round" />
<path d="M1356.5,1363 L2044.2,1364" fill="none" stroke="#444444" stroke-width="2.2" stroke-linejoin="round" stroke-linecap="round" />
<path d="M1491,1241.5 L1490.5,1412" fill="none" stroke="#444444" stroke-width="2.2" stroke-linejoin="round" stroke-linecap="round" />
<path d="M1629,1241.5 L1628.5,1412" fill="none" stroke="#444444" stroke-width="2.2" stroke-linejoin="round" stroke-linecap="round" />
<path d="M1769,1241.5 L1768.5,1412" fill="none" stroke="#444444" stroke-width="2.2" stroke-linejoin="round" stroke-linecap="round" />
<path d="M1824.4,1241.5 L1823.9,1412" fill="none" stroke="#444444" stroke-width="2.2" stroke-linejoin="round" stroke-linecap="round" />
<path d="M1937,1284 L1937,1322.5" fill="none" stroke="#444444" stroke-width="2.2" stroke-linejoin="round" stroke-linecap="round" />
<path d="M1370.2,1412.5 L1369.2,1683" fill="none" stroke="#444444" stroke-width="2.6" stroke-linejoin="round" stroke-linecap="round" />
<path d="M1437.2,1412.5 L1437.2,1510" fill="none" stroke="#444444" stroke-width="2.6" stroke-linejoin="round" stroke-linecap="round" />
<path d="M1698,1413.5 L1697,1683" fill="none" stroke="#444444" stroke-width="2.6" stroke-linejoin="round" stroke-linecap="round" />
<path d="M2128,1417 L2127.5,1685" fill="none" stroke="#444444" stroke-width="2.6" stroke-linejoin="round" stroke-linecap="round" />
<path d="M1370.2,1509.5 L2372,1516.3" fill="none" stroke="#444444" stroke-width="2.6" stroke-linejoin="round" stroke-linecap="round" />
<path d="M1513.7,1510.5 L1513.7,1683" fill="none" stroke="#444444" stroke-width="2.6" stroke-linejoin="round" stroke-linecap="round" />
<path d="M1833.8,1512 L1833.5,1684" fill="none" stroke="#444444" stroke-width="2.6" stroke-linejoin="round" stroke-linecap="round" />
<path d="M1370,1569.7 L1833.8,1571" fill="none" stroke="#444444" stroke-width="2.0" stroke-linejoin="round" stroke-linecap="round" />
<path d="M1370,1598.4 L1833.8,1599.5" fill="none" stroke="#444444" stroke-width="2.0" stroke-linejoin="round" stroke-linecap="round" />
<path d="M1370,1625.2 L1833.8,1626.3" fill="none" stroke="#444444" stroke-width="2.0" stroke-linejoin="round" stroke-linecap="round" />
<path d="M1370,1654.5 L1833.8,1655.5" fill="none" stroke="#444444" stroke-width="2.0" stroke-linejoin="round" stroke-linecap="round" />
<text x="1492.3" y="1198" font-family="Liberation Sans" font-size="45" font-style="italic" font-weight="normal" fill="#464646" textLength="184.4" lengthAdjust="spacingAndGlyphs" style="font-kerning:none" >Корпус</text>
<text x="1714.2" y="1198" font-family="Liberation Sans" font-size="45" font-style="italic" font-weight="normal" fill="#464646" textLength="22.1" lengthAdjust="spacingAndGlyphs" style="font-kerning:none" >в</text>
<text x="1762.4" y="1198" font-family="Liberation Sans" font-size="45" font-style="italic" font-weight="normal" fill="#464646" textLength="134.7" lengthAdjust="spacingAndGlyphs" style="font-kerning:none" >сборе</text>
<text x="1606.7" y="1235" font-family="Liberation Sans" font-size="42" font-style="italic" font-weight="normal" fill="#464646" textLength="28" lengthAdjust="spacingAndGlyphs" style="font-kerning:none" >/.</text>
<text x="1636" y="1235" font-family="Liberation Sans" font-size="42" font-style="italic" font-weight="normal" fill="#464646" textLength="162.3" lengthAdjust="spacingAndGlyphs" style="font-kerning:none" >сварка</text>
<text x="1808.7" y="1235" font-family="Liberation Sans" font-size="42" font-style="italic" font-weight="normal" fill="#464646" textLength="26.1" lengthAdjust="spacingAndGlyphs" style="font-kerning:none" >/.</text>
<text x="1358.2" y="1277.5" font-family="Liberation Sans" font-size="30" font-style="italic" font-weight="normal" fill="#464646" textLength="118.3" lengthAdjust="spacingAndGlyphs" style="font-kerning:none" >Исполнил</text>
<text x="1496.1" y="1277.5" font-family="Liberation Sans" font-size="30" font-style="italic" font-weight="normal" fill="#464646" textLength="134.3" lengthAdjust="spacingAndGlyphs" style="font-kerning:none" >Конструк.</text>
<text x="1643.6" y="1275.5" font-family="Liberation Sans" font-size="29" font-style="italic" font-weight="normal" fill="#464646" textLength="97.9" lengthAdjust="spacingAndGlyphs" style="font-kerning:none" >подпись</text>
<text x="1777.1" y="1263.5" font-family="Liberation Sans" font-size="17" font-style="italic" font-weight="normal" fill="#464646" textLength="40.9" lengthAdjust="spacingAndGlyphs" style="font-kerning:none" >28-06</text>
<text x="1775.7" y="1278.5" font-family="Liberation Sans" font-size="17" font-style="italic" font-weight="normal" fill="#464646" textLength="36.5" lengthAdjust="spacingAndGlyphs" style="font-kerning:none" >-50</text>
<text x="1358.2" y="1315" font-family="Liberation Sans" font-size="30" font-style="italic" font-weight="normal" fill="#464646" textLength="118.3" lengthAdjust="spacingAndGlyphs" style="font-kerning:none" >Проверил</text>
<text x="1496.2" y="1315" font-family="Liberation Sans" font-size="30" font-style="italic" font-weight="normal" fill="#464646" textLength="123.1" lengthAdjust="spacingAndGlyphs" style="font-kerning:none" >Рук. груп.</text>
<text x="1646.6" y="1313" font-family="Liberation Sans" font-size="29" font-style="italic" font-weight="normal" fill="#464646" textLength="97.9" lengthAdjust="spacingAndGlyphs" style="font-kerning:none" >подпись</text>
<text x="1777.1" y="1301" font-family="Liberation Sans" font-size="17" font-style="italic" font-weight="normal" fill="#464646" textLength="40.9" lengthAdjust="spacingAndGlyphs" style="font-kerning:none" >28-06</text>
<text x="1775.7" y="1316" font-family="Liberation Sans" font-size="17" font-style="italic" font-weight="normal" fill="#464646" textLength="36.5" lengthAdjust="spacingAndGlyphs" style="font-kerning:none" >-50</text>
<text x="1358.3" y="1358" font-family="Liberation Sans" font-size="30" font-style="italic" font-weight="normal" fill="#464646" textLength="118.2" lengthAdjust="spacingAndGlyphs" style="font-kerning:none" >Выпустил</text>
<text x="1496.2" y="1358" font-family="Liberation Sans" font-size="30" font-style="italic" font-weight="normal" fill="#464646" textLength="114.9" lengthAdjust="spacingAndGlyphs" style="font-kerning:none" >Нач. отд.</text>
<text x="1652.6" y="1356" font-family="Liberation Sans" font-size="29" font-style="italic" font-weight="normal" fill="#464646" textLength="97.9" lengthAdjust="spacingAndGlyphs" style="font-kerning:none" >подпись</text>
<text x="1777.1" y="1344" font-family="Liberation Sans" font-size="17" font-style="italic" font-weight="normal" fill="#464646" textLength="40.9" lengthAdjust="spacingAndGlyphs" style="font-kerning:none" >29-06</text>
<text x="1775.7" y="1359" font-family="Liberation Sans" font-size="17" font-style="italic" font-weight="normal" fill="#464646" textLength="36.5" lengthAdjust="spacingAndGlyphs" style="font-kerning:none" >-50</text>
<text x="1359" y="1403" font-family="Liberation Sans" font-size="30" font-style="italic" font-weight="normal" fill="#464646" textLength="117.5" lengthAdjust="spacingAndGlyphs" style="font-kerning:none" >Утвердил</text>
<text x="1496" y="1403" font-family="Liberation Sans" font-size="30" font-style="italic" font-weight="normal" fill="#464646" textLength="117.8" lengthAdjust="spacingAndGlyphs" style="font-kerning:none" >Гл. инж.</text>
<text x="1652.6" y="1401" font-family="Liberation Sans" font-size="29" font-style="italic" font-weight="normal" fill="#464646" textLength="97.9" lengthAdjust="spacingAndGlyphs" style="font-kerning:none" >подпись</text>
<line x1="1359" y1="1319" x2="1472" y2="1319" stroke="#444444" stroke-width="1.5" />
<text x="1828" y="1277.5" font-family="Liberation Sans" font-size="30" font-style="italic" font-weight="normal" fill="#464646" textLength="197.1" lengthAdjust="spacingAndGlyphs" style="font-kerning:none" >№ объекта 503-Р</text>
<text x="1835.4" y="1303" font-family="Liberation Sans" font-size="28" font-style="italic" font-weight="normal" fill="#464646" textLength="46.9" lengthAdjust="spacingAndGlyphs" style="font-kerning:none" >вес</text>
<text x="1889.5" y="1294" font-family="Liberation Sans" font-size="17" font-style="italic" font-weight="normal" fill="#464646" textLength="39.3" lengthAdjust="spacingAndGlyphs" style="font-kerning:none" >1шт</text>
<line x1="1854" y1="1313" x2="1872" y2="1313" stroke="#444444" stroke-width="2" />
<text x="1959.2" y="1315" font-family="Liberation Sans" font-size="30" font-style="italic" font-weight="normal" fill="#464646" textLength="66" lengthAdjust="spacingAndGlyphs" style="font-kerning:none" >М 1:1</text>
<text x="1829.9" y="1358" font-family="Liberation Sans" font-size="30" font-style="italic" font-weight="normal" fill="#464646" textLength="192" lengthAdjust="spacingAndGlyphs" style="font-kerning:none" >Марка матер. —</text>
<text x="1828.1" y="1403" font-family="Liberation Sans" font-size="30" font-style="italic" font-weight="normal" fill="#464646" textLength="207.8" lengthAdjust="spacingAndGlyphs" style="font-kerning:none" >№ станд. на марку</text>
<text x="2081.1" y="1234" font-family="Liberation Sans" font-size="81.2" font-style="normal" font-weight="normal" fill="#464646" stroke="#464646" stroke-width="1.6" textLength="33.4" lengthAdjust="spacingAndGlyphs" style="font-kerning:none" >5</text>
<text x="2118.7" y="1234" font-family="Liberation Sans" font-size="81.2" font-style="normal" font-weight="normal" fill="#464646" stroke="#464646" stroke-width="1.6" textLength="35.3" lengthAdjust="spacingAndGlyphs" style="font-kerning:none" >9</text>
<text x="2155.6" y="1234" font-family="Liberation Sans" font-size="81.2" font-style="normal" font-weight="normal" fill="#464646" stroke="#464646" stroke-width="1.6" textLength="37.4" lengthAdjust="spacingAndGlyphs" style="font-kerning:none" >6</text>
<text x="2234.4" y="1237.5" font-family="Liberation Sans" font-size="81.6" font-style="italic" font-weight="normal" fill="#464646" stroke="#464646" stroke-width="1.6" textLength="41" lengthAdjust="spacingAndGlyphs" style="font-kerning:none" >7</text>
<text x="2314.7" y="1234.5" font-family="Liberation Sans" font-size="74.2" font-style="italic" font-weight="normal" fill="#464646" stroke="#464646" stroke-width="1.6" textLength="27.4" lengthAdjust="spacingAndGlyphs" style="font-kerning:none" >1</text>
<path d="M2205,1208 L2224,1208.5" fill="none" stroke="#464646" stroke-width="6" stroke-linejoin="round" stroke-linecap="round" />
<path d="M2283,1211 L2301,1211" fill="none" stroke="#464646" stroke-width="6" stroke-linejoin="round" stroke-linecap="round" />
<text x="2088.6" y="1283" font-family="Liberation Sans" font-size="29" font-style="normal" font-weight="normal" fill="#464646" stroke="#464646" stroke-width="1.4" textLength="260.5" lengthAdjust="spacingAndGlyphs" style="font-kerning:none" >МИНРЫБПРОМ СССР,</text>
<text x="2050.2" y="1318.4" font-family="Liberation Sans" font-size="33" font-style="normal" font-weight="normal" fill="#464646" stroke="#464646" stroke-width="1.4" textLength="297.5" lengthAdjust="spacingAndGlyphs" style="font-kerning:none" >ГЛАВЗАПРЫБОСУДОСТРОЙ</text>
<text x="2136.5" y="1370" font-family="Liberation Sans" font-size="49" font-style="normal" font-weight="normal" fill="#464646" stroke="#464646" stroke-width="2.2" textLength="115.1" lengthAdjust="spacingAndGlyphs" style="font-kerning:none" >ЦКБС</text>
<text x="2056.3" y="1405.5" font-family="Liberation Sans" font-size="43" font-style="normal" font-weight="normal" fill="#464646" stroke="#464646" stroke-width="1.8" textLength="287.4" lengthAdjust="spacingAndGlyphs" style="font-kerning:none" >РЫБОСУДОПРОЕКТ</text>
<text x="1372.1" y="1483.3" font-family="Liberation Sans" font-size="56" font-style="normal" font-weight="bold" fill="#464646" textLength="59.1" lengthAdjust="spacingAndGlyphs" style="font-kerning:none" >С3</text>
<text x="1442.7" y="1449.4" font-family="Liberation Sans" font-size="32" font-style="italic" font-weight="normal" fill="#464646" textLength="220.5" lengthAdjust="spacingAndGlyphs" style="font-kerning:none" >Зверобойная</text>
<text x="1497" y="1494" font-family="Liberation Sans" font-size="31" font-style="italic" font-weight="normal" fill="#464646" textLength="139.2" lengthAdjust="spacingAndGlyphs" style="font-kerning:none" >шхуна</text>
<text x="1704.5" y="1453" font-family="Liberation Sans" font-size="31" font-style="italic" font-weight="normal" fill="#464646" textLength="141.6" lengthAdjust="spacingAndGlyphs" style="font-kerning:none" >Шпигат</text>
<text x="1856.8" y="1453" font-family="Liberation Sans" font-size="31" font-style="italic" font-weight="normal" fill="#464646" textLength="18.6" lengthAdjust="spacingAndGlyphs" style="font-kerning:none" >с</text>
<text x="1883.2" y="1453" font-family="Liberation Sans" font-size="31" font-style="italic" font-weight="normal" fill="#464646" textLength="121.1" lengthAdjust="spacingAndGlyphs" style="font-kerning:none" >застоем</text>
<text x="2013" y="1453" font-family="Liberation Sans" font-size="31" font-style="italic" font-weight="normal" fill="#464646" textLength="39.4" lengthAdjust="spacingAndGlyphs" style="font-kerning:none" >Dу</text>
<text x="2063.6" y="1453" font-family="Liberation Sans" font-size="36" font-style="italic" font-weight="normal" fill="#464646" textLength="53.1" lengthAdjust="spacingAndGlyphs" style="font-kerning:none" >32.</text>
<text x="1779.9" y="1499" font-family="Liberation Sans" font-size="34" font-style="italic" font-weight="normal" fill="#464646" textLength="120.6" lengthAdjust="spacingAndGlyphs" style="font-kerning:none" >Корпус</text>
<text x="1926.4" y="1499" font-family="Liberation Sans" font-size="34" font-style="italic" font-weight="normal" fill="#464646" textLength="16" lengthAdjust="spacingAndGlyphs" style="font-kerning:none" >в</text>
<text x="1959.8" y="1499" font-family="Liberation Sans" font-size="34" font-style="italic" font-weight="normal" fill="#464646" textLength="109.1" lengthAdjust="spacingAndGlyphs" style="font-kerning:none" >сборе.</text>
<text x="2140.9" y="1446" font-family="Liberation Sans" font-size="26" font-style="italic" font-weight="normal" fill="#464646" textLength="97.5" lengthAdjust="spacingAndGlyphs" style="font-kerning:none" >Общий</text>
<text x="2258.3" y="1446" font-family="Liberation Sans" font-size="26" font-style="italic" font-weight="normal" fill="#464646" textLength="57.3" lengthAdjust="spacingAndGlyphs" style="font-kerning:none" >вид</text>
<text x="2139.4" y="1494" font-family="Liberation Sans" font-size="27" font-style="italic" font-weight="normal" fill="#464646" textLength="65.5" lengthAdjust="spacingAndGlyphs" style="font-kerning:none" >черт.</text>
<text x="2216.7" y="1494" font-family="Liberation Sans" font-size="30" font-style="italic" font-weight="normal" fill="#464646" textLength="34.2" lengthAdjust="spacingAndGlyphs" style="font-kerning:none" >№</text>
<text x="2255.3" y="1494" font-family="Liberation Sans" font-size="34" font-style="italic" font-weight="normal" fill="#464646" textLength="81.7" lengthAdjust="spacingAndGlyphs" style="font-kerning:none" >596-7</text>
<text x="1381.3" y="1535.8" font-family="Liberation Sans" font-size="27" font-style="italic" font-weight="normal" fill="#464646" textLength="86.1" lengthAdjust="spacingAndGlyphs" style="font-kerning:none" >Заказ</text>
<text x="1522.6" y="1534" font-family="Liberation Sans" font-size="27" font-style="italic" font-weight="normal" fill="#464646" textLength="151.1" lengthAdjust="spacingAndGlyphs" style="font-kerning:none" >Масштаб</text>
<text x="1566" y="1566.6" font-family="Liberation Sans" font-size="30" font-style="italic" font-weight="normal" fill="#464646" textLength="41.5" lengthAdjust="spacingAndGlyphs" style="font-kerning:none" >1:1</text>
<text x="1718" y="1535.8" font-family="Liberation Sans" font-size="27" font-style="italic" font-weight="normal" fill="#464646" textLength="87.1" lengthAdjust="spacingAndGlyphs" style="font-kerning:none" >Дата</text>
<text x="1704.2" y="1563.5" font-family="Liberation Sans" font-size="30" font-style="italic" font-weight="normal" fill="#464646" textLength="116.6" lengthAdjust="spacingAndGlyphs" style="font-kerning:none" >25-11-54</text>
<text x="1373.2" y="1594.4" font-family="Liberation Sans" font-size="24" font-style="italic" font-weight="normal" fill="#464646" textLength="138.6" lengthAdjust="spacingAndGlyphs" style="font-kerning:none" >Копировала</text>
<text x="1521.3" y="1595" font-family="Liberation Sans" font-size="30" font-style="italic" font-weight="normal" fill="#464646" stroke="#464646" stroke-width="1.0" textLength="78" lengthAdjust="spacingAndGlyphs" style="font-kerning:none" >Фарт</text>
<line x1="1612" y1="1588" x2="1623" y2="1587" stroke="#464646" stroke-width="3" />
<text x="1698.4" y="1593" font-family="Liberation Sans" font-size="24" font-style="italic" font-weight="normal" fill="#464646" textLength="134.2" lengthAdjust="spacingAndGlyphs" style="font-kerning:none" >Сафаргалеева</text>
<text x="1374.7" y="1620.6" font-family="Liberation Sans" font-size="24" font-style="italic" font-weight="normal" fill="#464646" textLength="124.9" lengthAdjust="spacingAndGlyphs" style="font-kerning:none" >Проверил</text>
<text x="1374.4" y="1648.4" font-family="Liberation Sans" font-size="25" font-style="italic" font-weight="normal" fill="#464646" textLength="130.2" lengthAdjust="spacingAndGlyphs" style="font-kerning:none" >Н-к  к.Б.</text>
<text x="1699.3" y="1648.4" font-family="Liberation Sans" font-size="25" font-style="italic" font-weight="normal" fill="#464646" textLength="122.1" lengthAdjust="spacingAndGlyphs" style="font-kerning:none" >Знаменская</text>
<text x="1376.1" y="1676" font-family="Liberation Sans" font-size="25" font-style="italic" font-weight="normal" fill="#464646" textLength="121.6" lengthAdjust="spacingAndGlyphs" style="font-kerning:none" >Н-к  т.о.</text>
<text x="1701.6" y="1676" font-family="Liberation Sans" font-size="25" font-style="italic" font-weight="normal" fill="#464646" textLength="84.9" lengthAdjust="spacingAndGlyphs" style="font-kerning:none" >Кычин</text>
<path d="M1523,1633 C1529,1626 1540,1627 1537,1635 C1535,1640 1529,1641 1531,1642 C1539,1644 1540,1652 1531,1654 C1525,1656 1519,1653 1517,1650 M1538,1652 C1540,1646 1542,1640 1545,1637 M1543,1646 L1551,1644 M1548,1656 L1562,1627 M1553,1652 C1556,1636 1566,1628 1569,1640 C1570,1648 1573,1651 1577,1646 C1581,1640 1585,1638 1587,1644 C1589,1650 1593,1651 1597,1645 C1601,1639 1606,1639 1607,1645 C1608,1651 1612,1652 1616,1646 C1619,1641 1623,1640 1625,1645 C1626,1649 1624,1655 1619,1658 M1625,1646 C1628,1641 1632,1640 1634,1644 M1644,1627 C1640,1636 1636,1646 1637,1652 C1640,1648 1645,1645 1650,1648 C1655,1651 1660,1646 1664,1648 C1668,1650 1672,1646 1676,1648 C1682,1650 1686,1642 1690,1630 C1692,1626 1690,1640 1682,1658 C1678,1664 1668,1664 1664,1660" fill="none" stroke="#454545" stroke-width="3.2" stroke-linejoin="round" stroke-linecap="round" />
<path d="M1548,1674 C1536,1676 1528,1668 1534,1662 C1540,1656 1556,1656 1556,1664 C1556,1670 1548,1675 1546,1672 M1548,1676 C1556,1670 1566,1660 1570,1656 C1566,1664 1562,1674 1560,1677 C1566,1676 1572,1670 1578,1672 C1584,1674 1590,1670 1588,1666 C1585,1662 1580,1666 1582,1672 C1584,1676 1590,1676 1594,1670 M1596,1662 C1620,1658 1645,1658 1662,1664 M1596,1664 C1592,1672 1588,1680 1586,1684 M1600,1670 C1604,1666 1607,1664 1608,1668 C1609,1672 1606,1676 1610,1675 C1614,1674 1616,1668 1620,1667 C1623,1667 1622,1674 1626,1674 C1630,1673 1632,1668 1636,1667 C1640,1668 1640,1675 1646,1675 C1654,1675 1662,1670 1668,1676 C1664,1688 1656,1700 1650,1712 M1672,1678 C1676,1672 1686,1672 1686,1676 C1686,1680 1680,1682 1674,1680" fill="none" stroke="#454545" stroke-width="1.9" stroke-linejoin="round" stroke-linecap="round" />
<line x1="1620" y1="1662" x2="1620" y2="1664" stroke="#454545" stroke-width="3" />
<line x1="1645" y1="1662" x2="1645" y2="1664" stroke="#454545" stroke-width="3" />
<path d="M1871.5,1545 L1871.5,1530 A8,9 0 0 1 1887.5,1530 L1887.5,1545" fill="none" stroke="#464646" stroke-width="3" stroke-linejoin="round" stroke-linecap="round" />
<path d="M1879,1528 L1879,1675" fill="none" stroke="#464646" stroke-width="4" stroke-linejoin="round" stroke-linecap="round" />
<path d="M1869,1558 L1889,1558" fill="none" stroke="#464646" stroke-width="3.5" stroke-linejoin="round" stroke-linecap="round" />
<text x="1838.9" y="1604" font-family="Liberation Sans" font-size="44" font-style="normal" font-weight="normal" fill="#464646" stroke="#464646" stroke-width="1.6" textLength="27.2" lengthAdjust="spacingAndGlyphs" style="font-kerning:none" >А</text>
<path d="M1892,1572 A16,18 0 1 0 1892,1602" fill="none" stroke="#464646" stroke-width="3" stroke-linejoin="round" stroke-linecap="round" />
<text x="1893.8" y="1603" font-family="Liberation Sans" font-size="42" font-style="normal" font-weight="normal" fill="#464646" stroke="#464646" stroke-width="1.6" textLength="26.3" lengthAdjust="spacingAndGlyphs" style="font-kerning:none" >В</text>
<path d="M1840,1624 L1871,1632 M1840,1624 C1852,1636 1862,1655 1867,1672 L1871,1672 L1871,1644" fill="none" stroke="#464646" stroke-width="4.5" stroke-linejoin="round" stroke-linecap="round" />
<path d="M1920,1622 L1889,1631 M1920,1622 C1908,1636 1898,1655 1893,1670 L1887,1672 L1887,1644" fill="none" stroke="#464646" stroke-width="4.5" stroke-linejoin="round" stroke-linecap="round" />
<text x="1960.7" y="1561.3" font-family="Liberation Sans" font-size="24" font-style="normal" font-weight="normal" fill="#464646" stroke="#464646" stroke-width="1.3" textLength="122.1" lengthAdjust="spacingAndGlyphs" style="font-kerning:none" >МРП-СССР</text>
<text x="1924.2" y="1590.4" font-family="Liberation Sans" font-size="25" font-style="normal" font-weight="normal" fill="#464646" stroke="#464646" stroke-width="1.3" textLength="201.2" lengthAdjust="spacingAndGlyphs" style="font-kerning:none" >ГЛАВРЫБОСУДОСТРОЙ</text>
<text x="1946.8" y="1631.4" font-family="Liberation Sans" font-size="33" font-style="normal" font-weight="normal" fill="#464646" stroke="#464646" stroke-width="1.5" textLength="168.2" lengthAdjust="spacingAndGlyphs" style="font-kerning:none" >АРХАНГЕЛЬСКАЯ</text>
<text x="1986.6" y="1663" font-family="Liberation Sans" font-size="28" font-style="normal" font-weight="normal" fill="#464646" stroke="#464646" stroke-width="1.5" textLength="100.5" lengthAdjust="spacingAndGlyphs" style="font-kerning:none" >ВЕРФЬ</text>
<text x="2157.1" y="1646" font-family="Liberation Sans" font-size="127.1" font-style="normal" font-weight="bold" fill="#464646" textLength="42.7" lengthAdjust="spacingAndGlyphs" style="font-kerning:none" >2</text>
<text x="2205.1" y="1646" font-family="Liberation Sans" font-size="127.1" font-style="normal" font-weight="bold" fill="#464646" textLength="41.4" lengthAdjust="spacingAndGlyphs" style="font-kerning:none" >5</text>
<text x="2252.6" y="1646" font-family="Liberation Sans" font-size="127.1" font-style="normal" font-weight="bold" fill="#464646" textLength="41.7" lengthAdjust="spacingAndGlyphs" style="font-kerning:none" >8</text>
<text x="2299.7" y="1646" font-family="Liberation Sans" font-size="127.1" font-style="normal" font-weight="bold" fill="#464646" textLength="44.2" lengthAdjust="spacingAndGlyphs" style="font-kerning:none" >6</text></svg>
</body></html>
